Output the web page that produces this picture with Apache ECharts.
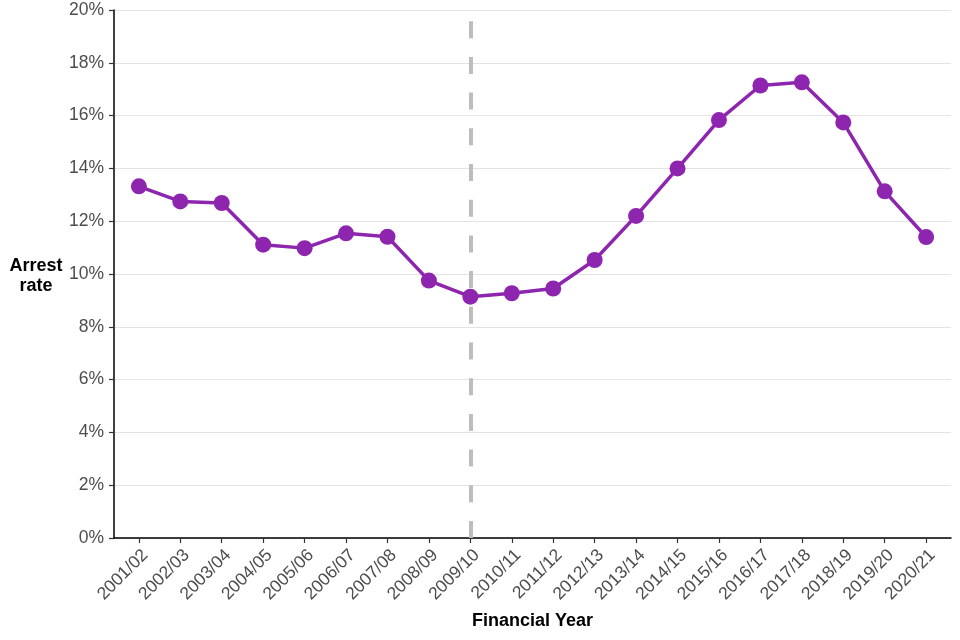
<!DOCTYPE html>
<html><head><meta charset="utf-8">
<script src="https://cdn.jsdelivr.net/npm/echarts@6/dist/echarts.min.js"></script>
<style>html,body{margin:0;padding:0;background:#fff}#c{width:960px;height:640px}</style>
</head><body><div id="c"></div>
<script>
const categories = ['2001/02','2002/03','2003/04','2004/05','2005/06','2006/07','2007/08','2008/09','2009/10','2010/11','2011/12','2012/13','2013/14','2014/15','2015/16','2016/17','2017/18','2018/19','2019/20','2020/21'];
const arrestRate = [13.32,12.75,12.69,11.11,10.98,11.54,11.41,9.75,9.14,9.27,9.45,10.53,12.20,14.00,15.83,17.14,17.26,15.74,13.13,11.40];
const yTicks = [0,2,4,6,8,10,12,14,16,18,20];
const breakYear = '2009/10';

const idx = categories.map((_, i) => i);
const breakIdx = categories.indexOf(breakYear);
const font = '"Liberation Sans", Arial, sans-serif';

const chart = echarts.init(document.getElementById('c'), null, {renderer:'canvas'});
chart.setOption({
  animation:false,
  backgroundColor:'#fff',
  grid:{left:114, right:9, top:10, bottom:102, containLabel:false},
  xAxis:{
    type:'value', min:-0.6, max:categories.length-0.4,
    name:'Financial Year', nameLocation:'middle', nameGap:74,
    nameTextStyle:{fontFamily:font, fontSize:18, fontWeight:'bold', color:'#000'},
    axisLine:{show:true, onZero:false, lineStyle:{color:'#000', width:1.5}},
    axisTick:{show:true, customValues:idx, length:5, lineStyle:{color:'#333', width:1.2}},
    axisLabel:{customValues:idx, rotate:45, margin:8, verticalAlign:'top', fontFamily:font, fontSize:17.5, color:'#4d4d4d',
      formatter:v => categories[Math.round(v)]},
    splitLine:{show:false}
  },
  yAxis:{
    type:'value', min:yTicks[0], max:yTicks[yTicks.length-1], interval:2,
    axisLine:{show:true, onZero:false, lineStyle:{color:'#000', width:1.5}},
    axisTick:{show:true, length:5, lineStyle:{color:'#333', width:1.2}},
    axisLabel:{margin:10, fontFamily:font, fontSize:17.5, color:'#4d4d4d', formatter:'{value}%'},
    splitLine:{show:true, lineStyle:{color:'#e3e3e3', width:1.2}}
  },
  graphic:[{
    type:'text', x:36, y:256,
    style:{text:'Arrest\nrate', fontFamily:font, fontSize:18, fontWeight:'bold', fill:'#000', align:'center', textAlign:'center', lineHeight:20}
  }],
  series:[{
    type:'line',
    data:arrestRate.map((v,i)=>[idx[i], v]),
    lineStyle:{color:'#8e25ae', width:3.5},
    itemStyle:{color:'#8e25ae'},
    symbol:'circle', symbolSize:16,
    z:3,
    markLine:{
      silent:true, symbol:['none','none'], label:{show:false},
      lineStyle:{color:'#bdbdbd', width:4, type:[17,18.7], opacity:1},
      data:[[{coord:[breakIdx, yTicks[0]]},{coord:[breakIdx, yTicks[yTicks.length-1]]}]],
      z:1
    }
  }]
});
</script></body></html>
